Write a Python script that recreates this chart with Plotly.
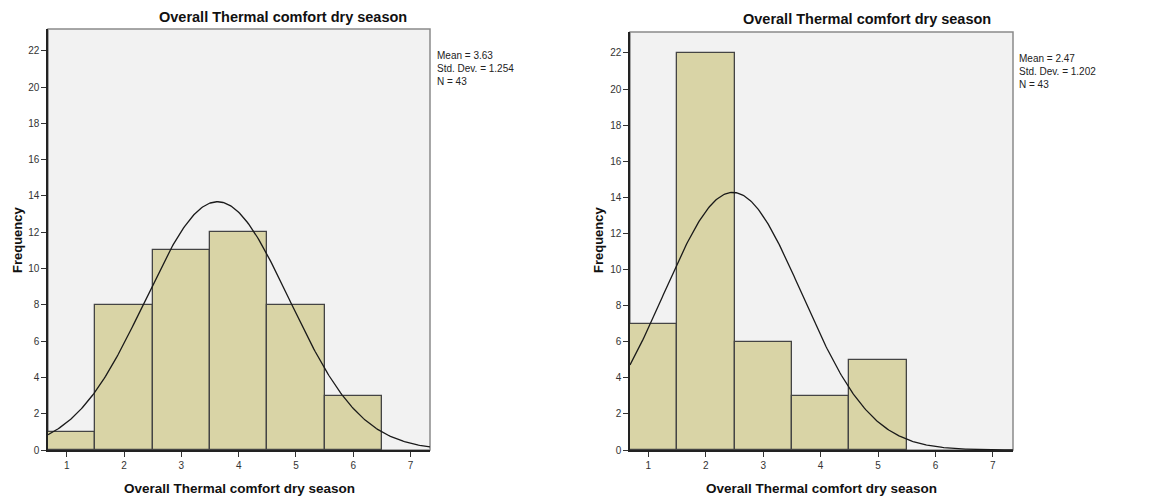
import numpy as np
import plotly.graph_objects as go

# ---- data ----
bins_left = [1, 2, 3, 4, 5, 6]
counts_left = [1, 8, 11, 12, 8, 3]
bins_right = [1, 2, 3, 4, 5]
counts_right = [7, 22, 6, 3, 5]
mean_left, sd_left, n_left = 3.63, 1.254, 43
mean_right, sd_right, n_right = 2.47, 1.202, 43
x_ticks = [1, 2, 3, 4, 5, 6, 7]
y_ticks = list(range(0, 23, 2))
title_text = "Overall Thermal comfort dry season"
x_title = "Overall Thermal comfort dry season"
y_title = "Frequency"

W, H = 1157, 499
FONT = "Arial, Liberation Sans, sans-serif"
BAR = "#D9D4A6"
EDGE = "#444444"
BG = "#F2F2F2"

fig = go.Figure()

def normal_curve(mean, sd, n, x0, x1):
    xs = np.linspace(x0, x1, 300)
    ys = n * 1.0 * np.exp(-0.5 * ((xs - mean) / sd) ** 2) / (sd * np.sqrt(2 * np.pi))
    return xs, ys

panels = [
    dict(bins=bins_left, counts=counts_left, mean=mean_left, sd=sd_left, n=n_left,
         xa="x", ya="y", xr=[0.672, 7.34], yr=[0, 23.2],
         px=(48, 430), py=(29, 450)),
    dict(bins=bins_right, counts=counts_right, mean=mean_right, sd=sd_right, n=n_right,
         xa="x2", ya="y2", xr=[0.68, 7.35], yr=[0, 23.16],
         px=(630, 1013), py=(32, 450)),
]

for i, p in enumerate(panels):
    fig.add_trace(go.Bar(x=p["bins"], y=p["counts"], width=1.0,
                         marker=dict(color=BAR, line=dict(color=EDGE, width=1.3)),
                         xaxis=p["xa"], yaxis=p["ya"], showlegend=False, hoverinfo="skip"))
    xs, ys = normal_curve(p["mean"], p["sd"], p["n"], p["xr"][0], p["xr"][1])
    fig.add_trace(go.Scatter(x=xs, y=ys, mode="lines",
                             line=dict(color="#1a1a1a", width=1.3),
                             xaxis=p["xa"], yaxis=p["ya"], showlegend=False, hoverinfo="skip"))
    suffix = "" if i == 0 else "2"
    xd = [p["px"][0] / W, p["px"][1] / W]
    yd = [1 - p["py"][1] / H, 1 - p["py"][0] / H]
    fig.layout["xaxis" + suffix] = dict(
        domain=xd, range=p["xr"], tickvals=x_ticks, ticks="outside", ticklen=5,
        tickcolor="#333", tickfont=dict(family=FONT, size=10, color="#333"),
        showline=True, linecolor="#222", linewidth=1.5, showgrid=False, zeroline=False,
        anchor="y" + suffix, fixedrange=True, automargin=False)
    fig.layout["yaxis" + suffix] = dict(
        domain=yd, range=p["yr"], tickvals=y_ticks, ticks="outside", ticklen=5,
        tickcolor="#333", tickfont=dict(family=FONT, size=10, color="#333"),
        showline=True, linecolor="#222", linewidth=1.5, showgrid=False, zeroline=False,
        anchor="x" + suffix, fixedrange=True, automargin=False)
    fig.add_shape(type="rect", xref="paper", yref="paper",
                  x0=xd[0], x1=xd[1], y0=yd[0], y1=yd[1],
                  fillcolor=BG, line=dict(color="#8a8a8a", width=1.5), layer="below")

fig.update_layout(
    width=W, height=H, margin=dict(l=0, r=0, t=0, b=0, pad=0),
    paper_bgcolor="white", plot_bgcolor=BG, bargap=0,
    font=dict(family=FONT),
)

def ann(text, x, y, size, bold=False, angle=0, xanchor="center", align="center"):
    fig.add_annotation(text=("<b>%s</b>" % text) if bold else text,
                       xref="paper", yref="paper", x=x / W, y=1 - y / H,
                       xanchor=xanchor, yanchor="middle", showarrow=False,
                       textangle=angle, align=align,
                       font=dict(family=FONT, size=size, color="#111"))

ann(title_text, 283, 17, 14.5, bold=True)
ann(title_text, 867, 19, 14.5, bold=True)
ann(x_title, 239, 488, 13.5, bold=True)
ann(x_title, 821, 488, 13.5, bold=True)
ann(y_title, 17, 240, 13, bold=True, angle=-90)
ann(y_title, 598, 240, 13, bold=True, angle=-90)

stats_left = "Mean = %.2f<br>Std. Dev. = %.3f<br>N = %d" % (mean_left, sd_left, n_left)
stats_right = "Mean = %.2f<br>Std. Dev. = %.3f<br>N = %d" % (mean_right, sd_right, n_right)
for txt, x, y in [(stats_left, 435, 68), (stats_right, 1017, 71)]:
    fig.add_annotation(text=txt, xref="paper", yref="paper", x=x / W, y=1 - y / H,
                       xanchor="left", yanchor="middle", showarrow=False, align="left",
                       font=dict(family=FONT, size=10, color="#222"))

fig.write_html("out.html", config={"responsive": False, "displayModeBar": False},
               post_script="document.body.style.margin='0';document.body.style.padding='0';document.body.style.overflow='hidden';")
